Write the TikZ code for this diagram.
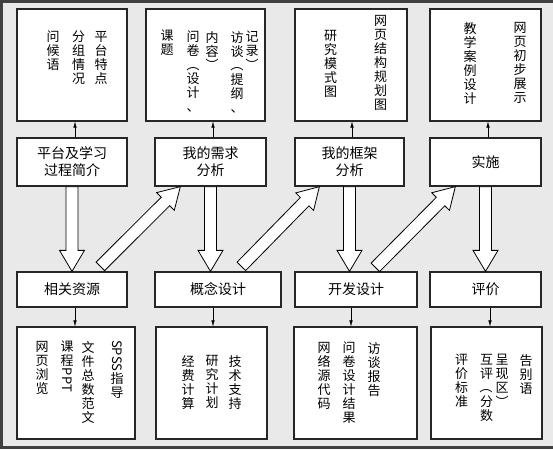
\documentclass[tikz,border=0pt]{standalone}
\usepackage{fontspec}
\usepackage{graphicx}
\setmainfont{Liberation Serif}
\newfontfamily\cjk{Noto Sans CJK SC}
\usetikzlibrary{calc,arrows.meta}
\definecolor{paper}{HTML}{E9E9E9}
\definecolor{rim}{HTML}{404040}
\newcommand\rotch[1]{\rotatebox[origin=c]{-90}{#1}}
\newcommand\fatarrow[2]{%
  \coordinate (h) at ($(#2)!21pt!(#1)$);
  \draw[fat] ($(#1)!6pt!90:(#2)$) -- ($(h)!6pt!90:(#2)$) -- ($(h)!12.5pt!90:(#2)$) -- (#2)
    -- ($(h)!12.5pt!-90:(#2)$) -- ($(h)!6pt!-90:(#2)$) -- ($(#1)!6pt!-90:(#2)$) -- cycle;}

\begin{document}
\begin{tikzpicture}[x=1pt,y=-1pt,>={Latex[length=6pt,width=3.5pt]},
  box/.style={draw=black!85,line width=1.3pt,fill=white,inner sep=0pt},
  topbox/.style={box,minimum width=#1,minimum height=112pt},
  midbox/.style={box,minimum width=#1,minimum height=48pt,align=center,font=\cjk\fontsize{14}{17}\selectfont},
  lowbox/.style={box,minimum width=#1,minimum height=35pt,font=\cjk\fontsize{14}{17}\selectfont},
  vcol/.style={anchor=north,align=center,inner sep=0pt,font=\cjk\fontsize{13}{14}\selectfont},
  fat/.style={draw=black,fill=white,line width=0.8pt,line join=miter}]
  \useasboundingbox (0,0) rectangle (553,449);
  \fill[paper] (0,0) rectangle (553,449);
  \draw[rim,line width=3pt] (600,1.5) -- (1.5,1.5) -- (1.5,447.8) -- (600,447.8);

  \node[topbox=110pt] (t1) at (72,65) {};
  \node[topbox=119pt] (t2) at (205.5,65) {};
  \node[topbox=112pt] (t3) at (351,65) {};
  \node[topbox=111pt] (t4) at (485.5,65) {};

  \node[midbox=110pt] (m1) at (72,162) {平台及学习\\过程简介};
  \node[midbox=111pt] (m2) at (210.5,162) {我的需求\\分析};
  \node[midbox=109pt] (m3) at (349.5,162) {我的框架\\分析};
  \node[midbox=111pt] (m4) at (485.5,162) {实施};

  \node[lowbox=110pt] (b1) at (72,289.5) {相关资源};
  \node[lowbox=126pt] (b2) at (218,289.5) {概念设计};
  \node[lowbox=122pt] (b3) at (356,289.5) {开发设计};
  \node[lowbox=111pt] (b4) at (485.5,289.5) {评价};

  \node[topbox=118pt] (d1) at (76,383) {};
  \node[topbox=111pt] (d2) at (211.5,383) {};
  \node[topbox=123pt] (d3) at (355.5,383) {};
  \node[topbox=111pt] (d4) at (486.5,383) {};

  \node[vcol] (t1a) at (101,31) {平\\台\\特\\点};
  \node[vcol] (t1b) at (78.5,31) {分\\组\\情\\况};
  \node[vcol] (t1c) at (53,31) {问\\候\\语};

  \node[vcol] (t2a) at (252,31) {记\\录\\\rotch{）}};
  \node[vcol] (t2b) at (237,31) {访\\谈\\\rotch{（}\\提\\纲\\、};
  \node[vcol] (t2c) at (212,31) {内\\容\\\rotch{）}};
  \node[vcol] (t2d) at (193,31) {问\\卷\\\rotch{（}\\设\\计\\、};
  \node[vcol] (t2e) at (167,30) {课\\题};

  \node[vcol] (t3a) at (380.5,15) {网\\页\\结\\构\\规\\划\\图};
  \node[vcol] (t3b) at (330.5,30) {研\\究\\模\\式\\图};

  \node[vcol] (t4a) at (520,22) {网\\页\\初\\步\\展\\示};
  \node[vcol] (t4b) at (470,22) {教\\学\\案\\例\\设\\计};

  \node[vcol] (d1a) at (117,340) {\rotch{SPSS}\\指\\导};
  \node[vcol] (d1b) at (88,341) {文\\件\\总\\数\\范\\文};
  \node[vcol] (d1c) at (67,341) {课\\程\\\rotch{PPT}};
  \node[vcol] (d1d) at (42,341) {网\\页\\浏\\览};

  \node[vcol] (d2a) at (235,355) {技\\术\\支\\持};
  \node[vcol] (d2b) at (212,355) {研\\究\\计\\划};
  \node[vcol] (d2c) at (188,355) {经\\费\\计\\算};

  \node[vcol] (d3a) at (374,342) {访\\谈\\报\\告};
  \node[vcol] (d3b) at (349,342) {问\\卷\\设\\计\\结\\果};
  \node[vcol] (d3c) at (324,342) {网\\络\\源\\代\\码};

  \node[vcol] (d4a) at (526,354) {告\\别\\语};
  \node[vcol] (d4b) at (502,354) {呈\\现\\区\\\rotch{）}};
  \node[vcol] (d4c) at (486.5,354) {互\\评\\\rotch{（}\\分\\数};
  \node[vcol] (d4d) at (461.5,354) {评\\价\\标\\准};

  \coordinate (u1) at ($(m1.north)+(3,0)$);
  \coordinate (u2) at ($(m2.north)+(2.5,0)$);
  \coordinate (u3) at ($(m3.north)+(2.5,0)$);
  \coordinate (u4) at ($(m4.north)+(2.5,0)$);
  \draw[->] (u1) -- (u1 |- t1.south);
  \draw[->] (u2) -- (u2 |- t2.south);
  \draw[->] (u3) -- (u3 |- t3.south);
  \draw[->] (u4) -- (u4 |- t4.south);

  \coordinate (v1) at ($(b1.south)+(3,0)$);
  \coordinate (v2) at ($(b2.south)+(-5,0)$);
  \coordinate (v3) at ($(b3.south)+(-5,0)$);
  \coordinate (v4) at ($(b4.south)+(4.5,0)$);
  \draw[->] (v1) -- (v1 |- d1.north);
  \draw[->] (v2) -- (v2 |- d2.north);
  \draw[->] (v3) -- (v3 |- d3.north);
  \draw[->] (v4) -- (v4 |- d4.north);

  \coordinate (f1) at (m1.south |- b1.north);
  \coordinate (f2) at (m2.south |- b2.north);
  \coordinate (f3) at (m3.south |- b3.north);
  \coordinate (f4) at (m4.south |- b4.north);
  \fatarrow{m1.south}{f1}
  \fatarrow{m2.south}{f2}
  \fatarrow{m3.south}{f3}
  \fatarrow{m4.south}{f4}

  \coordinate (s1) at ($(b1.north west)+(84,-5)$);
  \coordinate (e1) at ($(m2.south west)+(26,0)$);
  \coordinate (s2) at ($(b2.north west)+(87,-5)$);
  \coordinate (e2) at ($(m3.south west)+(25,0)$);
  \coordinate (s3) at ($(b3.north west)+(81,-4)$);
  \coordinate (e3) at ($(m4.south west)+(26,0)$);
  \fatarrow{s1}{e1}
  \fatarrow{s2}{e2}
  \fatarrow{s3}{e3}
\end{tikzpicture}
\end{document}
